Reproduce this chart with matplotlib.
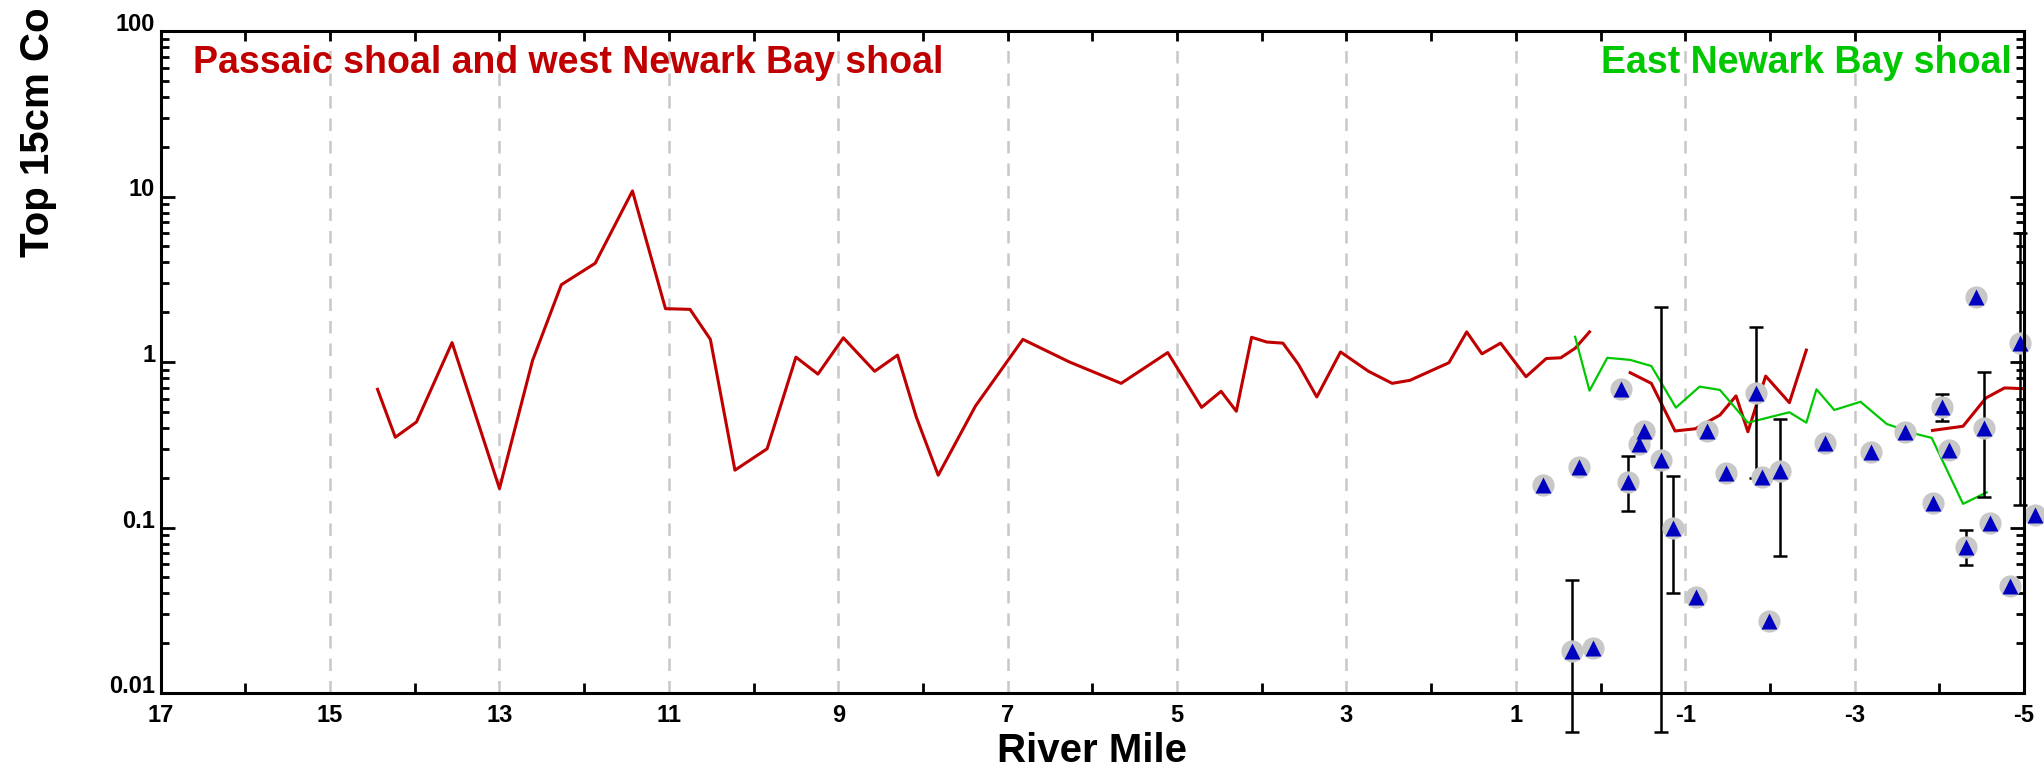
import numpy as np
import matplotlib
matplotlib.use("Agg")
import matplotlib.pyplot as plt
from matplotlib.ticker import FixedLocator, FuncFormatter

plt.rcParams['font.family'] = ['Liberation Sans', 'DejaVu Sans']
plt.rcParams['font.weight'] = 'bold'

# ---------------- data ----------------
# Passaic shoal / west Newark Bay shoal (red), three segments
red_miles_1 = [14.44, 14.23, 13.98, 13.56, 13.00, 12.61, 12.27, 11.87, 11.43, 11.04,
               10.75, 10.51, 10.22, 9.84, 9.50, 9.24, 8.94, 8.57, 8.30, 8.08,
               7.82, 7.38, 6.82, 6.27, 5.66, 5.11, 4.71, 4.48, 4.30, 4.12,
               3.94, 3.75, 3.57, 3.35, 3.07, 2.74, 2.46, 2.25, 1.79, 1.58,
               1.40, 1.18, 0.88, 0.64, 0.47, 0.30, 0.13]
red_vals_1 = [0.684, 0.351, 0.434, 1.31, 0.172, 1.02, 2.93, 3.95, 10.8, 2.10,
              2.08, 1.37, 0.222, 0.299, 1.07, 0.845, 1.40, 0.879, 1.10, 0.467,
              0.207, 0.542, 1.37, 1.00, 0.743, 1.14, 0.532, 0.665, 0.504, 1.41,
              1.32, 1.30, 0.973, 0.615, 1.15, 0.879, 0.743, 0.775, 0.99, 1.52,
              1.12, 1.30, 0.815, 1.05, 1.06, 1.21, 1.52]
red_miles_2 = [-0.35, -0.60, -0.88, -1.12, -1.41, -1.60, -1.74, -1.95, -2.23, -2.43]
red_vals_2 = [0.862, 0.743, 0.383, 0.395, 0.478, 0.624, 0.379, 0.822, 0.568, 1.18]
red_miles_3 = [-3.92, -4.28, -4.55, -4.77, -5.00]
red_vals_3 = [0.386, 0.409, 0.606, 0.697, 0.69]

# East Newark Bay shoal (green)
green_miles = [0.30, 0.13, -0.08, -0.35, -0.60, -0.89, -1.17, -1.41, -1.74, -2.23,
               -2.43, -2.55, -2.76, -3.07, -3.38, -3.73, -3.91, -4.28, -4.56]
green_vals = [1.42, 0.671, 1.06, 1.03, 0.946, 0.530, 0.71, 0.678, 0.43, 0.497,
              0.43, 0.684, 0.513, 0.575, 0.422, 0.367, 0.348, 0.139, 0.163]

# Sample points (blue triangles) with optional error-bar ranges
pt_miles = [0.68, 0.34, 0.09, 0.25, -0.24, -0.32, -0.45, -0.51, -0.71, -0.85,
            -1.13, -1.26, -1.48, -1.84, -1.91, -2.12, -1.99, -2.65, -3.19, -3.60,
            -3.92, -4.03, -4.12, -4.32, -4.43, -4.53, -4.60, -4.84, -4.95, -5.13]
pt_vals = [0.181, 0.0179, 0.0188, 0.231, 0.684, 0.189, 0.318, 0.385, 0.256, 0.0989,
           0.0382, 0.385, 0.214, 0.647, 0.201, 0.220, 0.0274, 0.323, 0.287, 0.376,
           0.141, 0.537, 0.294, 0.0766, 2.46, 0.397, 0.107, 0.0443, 1.30, 0.119]
pt_err_lo = [None, 0.0058, None, None, None, 0.125, None, None, 0.0058, 0.040,
             None, None, None, 0.198, None, 0.0673, None, None, None, None,
             None, 0.441, None, 0.059, None, 0.152, None, None, 0.137, None]
pt_err_hi = [None, 0.048, None, None, None, 0.272, None, None, 2.14, 0.206,
             None, None, None, 1.62, None, 0.451, None, None, None, None,
             None, 0.638, None, 0.0966, None, 0.873, None, None, 6.02, None]

x_major = list(range(17, -6, -2))
x_minor = list(range(16, -5, -2))
y_major = [0.01, 0.1, 1, 10, 100]
y_major_labels = ['0.01', '0.1', '1', '10', '100']

RED = '#C00000'
GREEN = '#00C800'
BLUE = '#0000C0'
GREY = '#C8C8C8'

# ---------------- figure ----------------
W, H = 2044, 779
fig = plt.figure(figsize=(W / 100, H / 100), dpi=100)
L, R, T, B = 160.7, 2024, 31, 693
ax = fig.add_axes([L / W, 1 - B / H, (R - L) / W, (B - T) / H])

ax.set_xlim(17, -5)
ax.set_yscale('log')
ax.set_ylim(0.01, 100)

ax.xaxis.set_major_locator(FixedLocator(x_major))
ax.xaxis.set_minor_locator(FixedLocator(x_minor))
ax.xaxis.set_major_formatter(FuncFormatter(lambda v, _: f"{int(round(v))}"))
ax.set_yticks(y_major)
ax.set_yticklabels(y_major_labels)
ax.yaxis.set_minor_formatter(FuncFormatter(lambda v, _: ""))

ax.grid(True, axis='x', which='major', color=GREY, linewidth=1.8,
        linestyle=(0, (5, 4)), zorder=0)
ax.set_axisbelow(True)

for s in ax.spines.values():
    s.set_linewidth(2.2)
    s.set_zorder(6)

ax.tick_params(which='both', direction='in', top=True, right=True,
               width=2.0, colors='black', labelsize=17)
ax.tick_params(axis='y', which='major', length=10, pad=4)
ax.tick_params(axis='y', which='minor', length=6)
ax.tick_params(axis='x', which='both', length=7, pad=8)
ax.tick_params(axis='x', which='major', bottom=False, labelbottom=True)
plt.setp(ax.get_xticklabels(), fontweight='bold')
plt.setp(ax.get_yticklabels(), fontweight='bold', ha='right', va='baseline')

# lines
ax.plot(red_miles_1, red_vals_1, color=RED, lw=2.2, zorder=2)
ax.plot(red_miles_2, red_vals_2, color=RED, lw=2.2, zorder=2)
ax.plot(red_miles_3, red_vals_3, color=RED, lw=2.2, zorder=2)
ax.plot(green_miles, green_vals, color=GREEN, lw=1.6, zorder=2)

# error bars
em, ev, elo, ehi = [], [], [], []
for m, v, lo, hi in zip(pt_miles, pt_vals, pt_err_lo, pt_err_hi):
    if lo is not None:
        em.append(m); ev.append(v); elo.append(v - lo); ehi.append(hi - v)
eb = ax.errorbar(em, ev, yerr=[elo, ehi], fmt='none', ecolor='black',
                 elinewidth=1.8, capsize=4.7, capthick=1.8, zorder=3)
for art in list(eb.lines[1]) + list(eb.lines[2]):
    art.set_clip_on(False)

# markers
ax.plot(pt_miles, pt_vals, 'o', ms=16, color=GREY, mec='none', zorder=4, clip_on=False)
ax.plot(pt_miles, pt_vals, '^', ms=11.5, color=BLUE, mec='none', zorder=5, clip_on=False)

# annotations
ax.text(0.0173, 0.9366, 'Passaic shoal and west Newark Bay shoal', transform=ax.transAxes,
        color=RED, fontsize=27, fontweight='bold', ha='left', va='baseline')
ax.text(0.9936, 0.9366, 'East Newark Bay shoal', transform=ax.transAxes,
        color=GREEN, fontsize=27, fontweight='bold', ha='right', va='baseline')

fig.text(((L + R) / 2) / W, 1 - 762 / H, 'River Mile', fontsize=29, fontweight='bold',
         ha='center', va='baseline')
fig.text(38 / W, 1 - 257 / H, 'Top 15cm Co', fontsize=29, fontweight='bold',
         rotation=90, ha='center', va='bottom')

fig.savefig('out.png', dpi=100)
